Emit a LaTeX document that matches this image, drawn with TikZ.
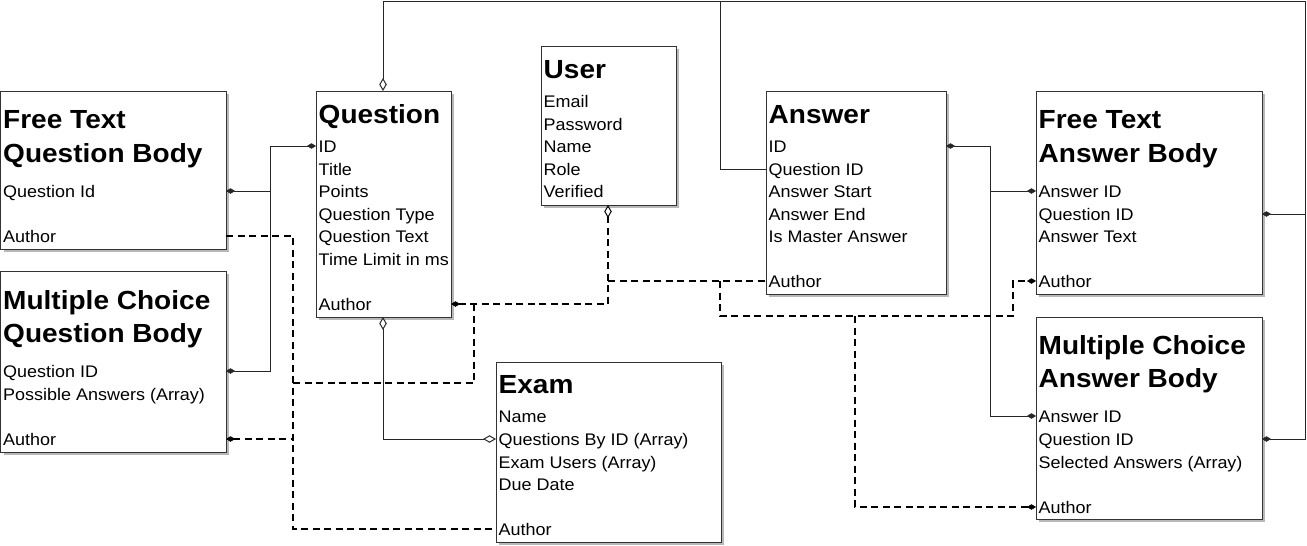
\documentclass[tikz,border=0pt]{standalone}
\usepackage{fontspec}
\setmainfont{Liberation Sans}[FakeStretch=1.07]
\usetikzlibrary{arrows.meta}
\newcommand\bodyfnt{\fontsize{16.8}{20}\selectfont}
\newcommand\titlefnt{\fontsize{26.2}{30}\selectfont\bfseries}
\tikzset{
 box/.style={draw=black!80, line width=1pt, fill=white, inner sep=0pt, outer sep=0pt, anchor=north west},
 shd/.style={fill=black!28, draw=none, inner sep=0pt, outer sep=0pt, anchor=north west},
 txt/.style={anchor=base west, inner sep=0pt, font=\bodyfnt},
 ttl/.style={anchor=base west, inner sep=0pt, font=\titlefnt},
 conn/.style={draw=black!85, line width=1pt},
 dsh/.style={draw=black, line width=1.8pt, dash pattern=on 7pt off 4.5pt},
 FillD/.tip={Diamond[length=9pt,width=5.5pt,line width=0.6pt]},
 OpenD/.tip={Diamond[open,length=13pt,width=7.5pt,line width=1pt]},
}
\newcommand\entity[5]{%
  \node[shd, minimum width=#4pt, minimum height=#5pt] (#1-shadow) at (#2+3,#3+3) {};
  \node[box, minimum width=#4pt, minimum height=#5pt] (#1) at (#2,#3) {};
}
\begin{document}
\begin{tikzpicture}[x=1pt,y=-1pt]
\useasboundingbox (0,0) rectangle (1307,546);

% boxes
\entity{ftqb}{0.5}{91}{225.5}{158}
\entity{mcqb}{0.5}{271}{225.5}{181}
\entity{question}{316}{91}{135}{226}
\entity{user}{541}{46}{135}{159}
\entity{answer}{766}{91}{180}{203}
\entity{exam}{496}{362}{225}{180}
\entity{ftab}{1036}{91}{226}{203}
\entity{mcab}{1036}{317}{226}{202}

% texts
\node[ttl] (ftqb-t1) at (3,128) {Free Text};
\node[ttl] (ftqb-t2) at (3,162) {Question Body};
\foreach \t/\yy [count=\i] in {Question Id/197.5, Author/242.5}
  \node[txt] (ftqb-r\i) at (3,\yy) {\t};

\node[ttl] (mcqb-t1) at (3,309) {Multiple Choice};
\node[ttl] (mcqb-t2) at (3,342) {Question Body};
\foreach \t/\yy [count=\i] in {Question ID/377.5, Possible Answers (Array)/400, Author/445.5}
  \node[txt] (mcqb-r\i) at (3,\yy) {\t};

\node[ttl] (question-t1) at (318.5,123) {Question};
\foreach \t/\yy [count=\i] in {ID/152.5, Title/175, Points/197.5, Question Type/220, Question Text/242.5, Time Limit in ms/265, Author/310}
  \node[txt] (question-r\i) at (318.5,\yy) {\t};

\node[ttl] (user-t1) at (543.5,78) {User};
\foreach \t/\yy [count=\i] in {Email/107.5, Password/130, Name/152.5, Role/175, Verified/197.5}
  \node[txt] (user-r\i) at (543.5,\yy) {\t};

\node[ttl] (answer-t1) at (768.5,123) {Answer};
\foreach \t/\yy [count=\i] in {ID/152.5, Question ID/175, Answer Start/197.5, Answer End/220, Is Master Answer/242.5, Author/287.5}
  \node[txt] (answer-r\i) at (768.5,\yy) {\t};

\node[ttl] (exam-t1) at (498.5,393) {Exam};
\foreach \t/\yy [count=\i] in {Name/422.5, Questions By ID (Array)/445, Exam Users (Array)/468, Due Date/490.5, Author/535.5}
  \node[txt] (exam-r\i) at (498.5,\yy) {\t};

\node[ttl] (ftab-t1) at (1038.5,128) {Free Text};
\node[ttl] (ftab-t2) at (1038.5,162) {Answer Body};
\foreach \t/\yy [count=\i] in {Answer ID/197.5, Question ID/220, Answer Text/242.5, Author/287.5}
  \node[txt] (ftab-r\i) at (1038.5,\yy) {\t};

\node[ttl] (mcab-t1) at (1038.5,354) {Multiple Choice};
\node[ttl] (mcab-t2) at (1038.5,387) {Answer Body};
\foreach \t/\yy [count=\i] in {Answer ID/422.5, Question ID/445, Selected Answers (Array)/468, Author/513.5}
  \node[txt] (mcab-r\i) at (1038.5,\yy) {\t};

% ports
\coordinate (q-top) at (383,91);
\coordinate (q-bot) at (383,317);
\coordinate (q-id) at (316,146);
\coordinate (q-author) at (451,304);
\coordinate (ftqb-qid) at (226,191);
\coordinate (ftqb-author) at (226,236);
\coordinate (mcqb-qid) at (226,371);
\coordinate (mcqb-author) at (226,439);
\coordinate (user-bot) at (608,205);
\coordinate (ans-qid) at (766,169);
\coordinate (ans-id) at (946,146);
\coordinate (ans-author) at (766,281);
\coordinate (exam-qids) at (496,439);
\coordinate (exam-author) at (496,529);
\coordinate (ftab-aid) at (1036,191);
\coordinate (ftab-qid) at (1262,214);
\coordinate (ftab-author) at (1036,281);
\coordinate (mcab-aid) at (1036,416);
\coordinate (mcab-qid) at (1262,439);
\coordinate (mcab-author) at (1036,507);

% solid connectors
\draw[conn, -{OpenD}] (ans-qid) -| (720,1) -| (q-top);
\draw[conn, {FillD}-] (mcab-qid) -| (1305,1) -- (720,1);
\draw[conn, {FillD}-] (ftab-qid) -- (1305,214);
\draw[conn, {FillD}-{FillD}] (mcqb-qid) -| (270,146) -- (q-id);
\draw[conn, {FillD}-] (ftqb-qid) -- (270,191);
\draw[conn, {OpenD}-{OpenD}] (q-bot) |- (exam-qids);
\draw[conn, {FillD}-{FillD}] (ans-id) -| (990,416) -- (mcab-aid);
\draw[conn, -{FillD}] (990,191) -- (ftab-aid);

% dashed connectors
\draw[dsh, {OpenD}-{FillD}] (user-bot) -- (608,304) -- (q-author);
\draw[dsh] (608,281) -- (ans-author);
\draw[dsh, -{FillD}] (720,281) -- (720,316) -- (1013,316) -- (1013,281) -- (ftab-author);
\draw[dsh, -{FillD}] (855,316) |- (mcab-author);
\draw[dsh] (474,304) |- (293,383);
\draw[dsh] (ftqb-author) -| (293,529) -- (exam-author);
\draw[dsh, {FillD}-] (mcqb-author) -- (293,439);
\end{tikzpicture}
\end{document}
